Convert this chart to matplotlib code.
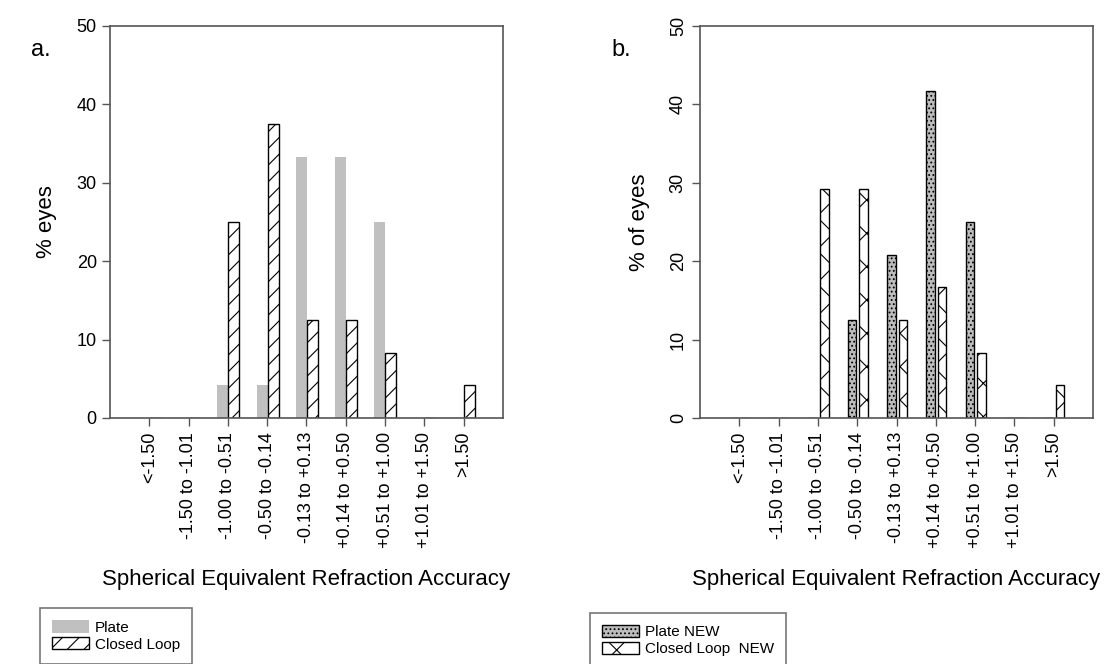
import matplotlib
matplotlib.use("Agg")
import matplotlib.pyplot as plt
import numpy as np

plt.rcParams["font.family"] = ["Liberation Sans", "DejaVu Sans"]
plt.rcParams["hatch.linewidth"] = 0.8

# data
categories = ["<-1.50", "-1.50 to -1.01", "-1.00 to -0.51", "-0.50 to -0.14",
              "-0.13 to +0.13", "+0.14 to +0.50", "+0.51 to +1.00",
              "+1.01 to +1.50", ">1.50"]
plate = [0, 0, 4.17, 4.17, 33.3, 33.3, 25.0, 0, 0]
closed_loop = [0, 0, 25.0, 37.5, 12.5, 12.5, 8.33, 0, 4.17]
plate_new = [0, 0, 0, 12.5, 20.8, 41.7, 25.0, 0, 0]
closed_loop_new = [0, 0, 29.2, 29.2, 12.5, 16.7, 8.33, 0, 4.17]
yticks = [0, 10, 20, 30, 40, 50]

x = np.arange(len(categories))
spine_col = "#555555"

fig = plt.figure(figsize=(11.05, 6.64), dpi=100)
ax1 = fig.add_axes([0.0995, 0.3705, 0.3557, 0.5904])
ax2 = fig.add_axes([0.6335, 0.3705, 0.3557, 0.5904])

# panel a
ax1.bar(x - 0.13, plate, width=0.28, color="#c0c0c0", linewidth=0, label="Plate")
ax1.bar(x + 0.15, closed_loop, width=0.28, facecolor="white", edgecolor="black",
        hatch="//", linewidth=1.0, label="Closed Loop")

# panel b
ax2.bar(x - 0.13, plate_new, width=0.22, facecolor="#bdbdbd", edgecolor="black",
        hatch="....", linewidth=1.0, label="Plate NEW")
ax2.bar(x + 0.16, closed_loop_new, width=0.22, facecolor="white", edgecolor="black",
        hatch="x", linewidth=1.0, label="Closed Loop  NEW")

for ax, ylab in [(ax1, "% eyes"), (ax2, "% of eyes")]:
    ax.set_xlim(-1, 9)
    ax.set_ylim(0, 50)
    ax.set_yticks(yticks)
    ax.set_xticks(x)
    ax.set_xticklabels(categories, rotation=90, fontsize=13, va="top")
    ax.tick_params(axis="both", direction="out", length=6, width=1.0,
                   color=spine_col, labelsize=13)
    ax.tick_params(axis="x", pad=4)
    for s in ax.spines.values():
        s.set_color(spine_col)
        s.set_linewidth(1.2)
    ax.set_ylabel(ylab, fontsize=16, labelpad=14)
    ax.set_xlabel("Spherical Equivalent Refraction Accuracy", fontsize=16, labelpad=15)

for lab in ax2.get_yticklabels():
    lab.set_rotation(90)
    lab.set_va("center")

fig.text(0.028, 0.925, "a.", fontsize=17, ha="left", va="center")
fig.text(0.553, 0.925, "b.", fontsize=17, ha="left", va="center")

leg_kw = dict(loc="upper left", fontsize=11, frameon=True, fancybox=False,
              handlelength=2.4, handleheight=0.85, labelspacing=0.15,
              handletextpad=0.4, borderpad=0.8, borderaxespad=0)
l1 = fig.legend(*ax1.get_legend_handles_labels(), bbox_to_anchor=(0.036, 0.084),
                **leg_kw)
l2 = fig.legend(*ax2.get_legend_handles_labels(), bbox_to_anchor=(0.534, 0.077),
                **leg_kw)
for leg in (l1, l2):
    leg.get_frame().set_edgecolor(spine_col)
    leg.get_frame().set_linewidth(1.2)

fig.savefig("out.png", dpi=100)
